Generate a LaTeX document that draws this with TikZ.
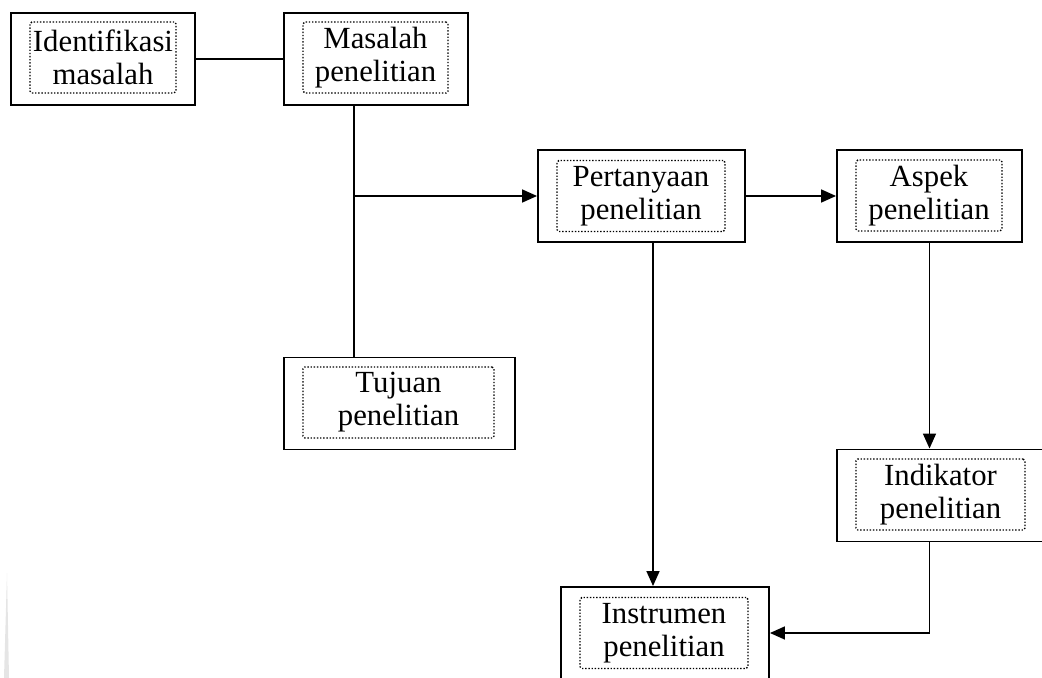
\documentclass[tikz,border=0pt]{standalone}
\usepackage{fontspec}
\setmainfont{Liberation Serif}
\usetikzlibrary{arrows.meta, calc}

\begin{document}
\begin{tikzpicture}[x=0.02cm, y=-0.02cm,
  obox/.style={draw, line width=1.1pt, minimum width=#1, minimum height=1.84cm, inner sep=0pt},
  ibox/.style={draw, densely dotted, line width=0.8pt, rounded corners=1pt, minimum width=#1,
    minimum height=1.42cm, inner sep=0pt, align=center, font=\fontsize{17.5}{18.8}\selectfont},
  link/.style={line width=0.9pt},
  arr/.style={line width=0.9pt, -{Triangle[length=3mm, width=2.6mm]}}]
  \useasboundingbox (0,0) rectangle (1042,678);
  % page shadow
  \fill[gray!20] (4,678) -- (7,573) -- (9,678) -- cycle;

  % boxes
  \node[obox=3.68cm] (ident) at (103,59) {};
  \node[ibox=2.92cm] (identt) at (103,57.5) {Identifikasi\\masalah};
  \node[obox=3.68cm] (masalah) at (376,59) {};
  \node[ibox=2.90cm] (masalaht) at (375.5,57.5) {Masalah\\penelitian};
  \node[obox=4.14cm] (pert) at (641.5,196) {};
  \node[ibox=3.36cm] (pertt) at (641,196) {Pertanyaan\\penelitian};
  \node[obox=3.70cm] (aspek) at (929.5,196) {};
  \node[ibox=2.92cm] (aspekt) at (929,195.5) {Aspek\\penelitian};
  \node[obox=4.62cm] (tujuan) at (399.5,403.5) {};
  \node[ibox=3.82cm] (tujuant) at (398.5,402.5) {Tujuan\\penelitian};
  \node[obox=4.14cm] (indik) at (940.5,495.5) {};
  \node[ibox=3.38cm] (indikt) at (940.5,494.5) {Indikator\\penelitian};
  \node[obox=4.16cm] (instr) at (665,633) {};
  \node[ibox=3.36cm] (instrt) at (664,633) {Instrumen\\penelitian};

  % connectors
  \draw[link] (ident.east) -- (masalah.west);
  \coordinate (mq) at ($(masalah.south)+(-22,0)$);
  \draw[link] (mq) -- (mq |- tujuan.north);
  \draw[arr] (mq |- pert.west) -- (pert.west);
  \draw[arr] (pert.east) -- (aspek.west);
  \coordinate (pq) at ($(pert.south)+(11.5,0)$);
  \draw[arr] (pq) -- (pq |- instr.north);
  \draw[arr] (aspek.south) -- (aspek.south |- indik.north);
  \draw[arr] (aspek.south |- indik.south) -- (aspek.south |- instr.east) -- (instr.east);
\end{tikzpicture}
\end{document}
